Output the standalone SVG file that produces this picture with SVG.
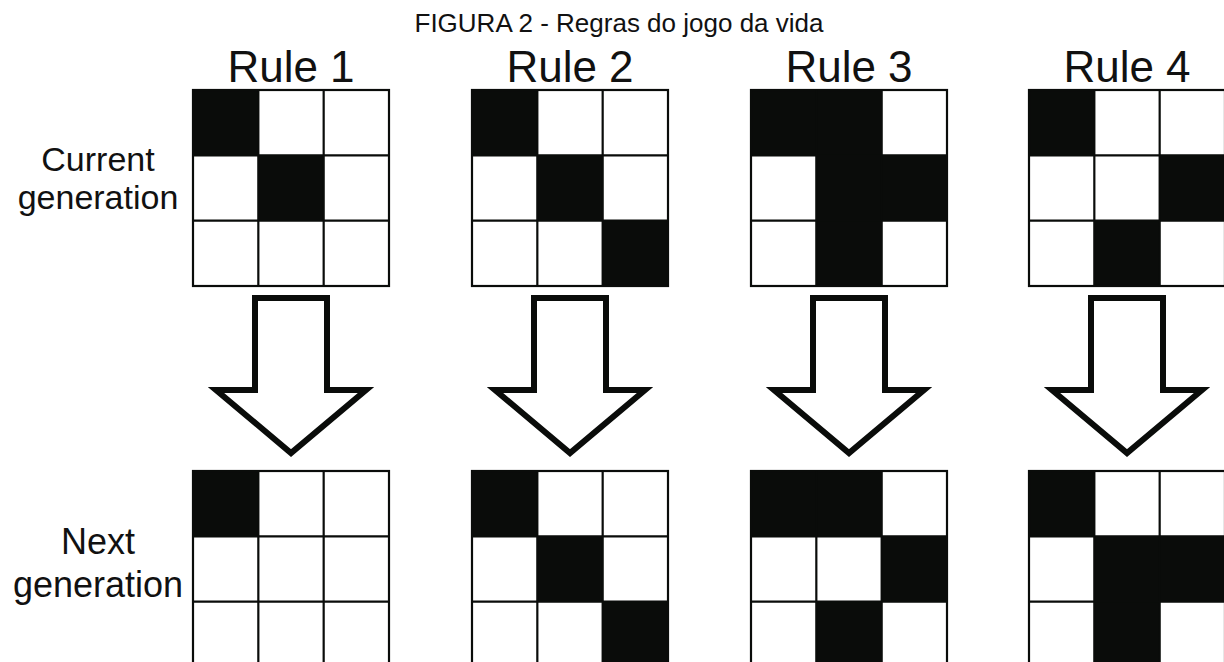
<svg xmlns="http://www.w3.org/2000/svg" width="1224" height="662" viewBox="0 0 1224 662">
<style>
text{font-family:"Liberation Sans",Arial,sans-serif;fill:#111;}
.title{font-size:26px;text-anchor:middle;}
.rule{font-size:44px;text-anchor:middle;}
.lab{font-size:36px;text-anchor:middle;}
.lab2{font-size:34px;text-anchor:middle;}
.bg{fill:#fff;}
.on{fill:#0a0c0a;}
.frame{fill:none;stroke:#0a0c0a;stroke-width:2.2;}
.arrow{fill:#fff;stroke:#0a0c0a;stroke-width:6;stroke-linejoin:miter;stroke-miterlimit:6;}
</style>
<defs>
<g id="gridlines">
<rect class="frame" x="0" y="0" width="196" height="196"/>
<path class="frame" d="M65.33 0V196M130.67 0V196M0 65.33H196M0 130.67H196"/>
</g>
<polygon id="arr" class="arrow" points="-36,298 36,298 36,390 75,390 0,453 -75,390 -36,390"/>
</defs>
<rect width="1224" height="662" fill="#fff"/>
<text class="title" x="619" y="32">FIGURA 2 - Regras do jogo da vida</text>
<g id="labels">
<text class="lab2" x="98" y="171">Current</text>
<text class="lab2" x="98" y="209">generation</text>
<text class="lab" x="98" y="554">Next</text>
<text class="lab" x="98" y="597">generation</text>
</g>
<g id="rule-titles">
<text class="rule" x="291" y="82">Rule 1</text>
<text class="rule" x="570" y="82">Rule 2</text>
<text class="rule" x="849" y="82">Rule 3</text>
<text class="rule" x="1127" y="82">Rule 4</text>
</g>
<g id="rule1-current" transform="translate(193,90)">
<rect class="bg" width="196" height="196"/>
<rect class="on" x="0" y="0" width="65.33" height="65.33"/>
<rect class="on" x="65.33" y="65.33" width="65.33" height="65.33"/>
<use href="#gridlines"/>
</g>
<g id="rule2-current" transform="translate(472,90)">
<rect class="bg" width="196" height="196"/>
<rect class="on" x="0" y="0" width="65.33" height="65.33"/>
<rect class="on" x="65.33" y="65.33" width="65.33" height="65.33"/>
<rect class="on" x="130.67" y="130.67" width="65.33" height="65.33"/>
<use href="#gridlines"/>
</g>
<g id="rule3-current" transform="translate(751,90)">
<rect class="bg" width="196" height="196"/>
<rect class="on" x="0" y="0" width="130.67" height="65.33"/>
<rect class="on" x="65.33" y="65.33" width="130.67" height="65.33"/>
<rect class="on" x="65.33" y="130.67" width="65.33" height="65.33"/>
<use href="#gridlines"/>
</g>
<g id="rule4-current" transform="translate(1029,90)">
<rect class="bg" width="196" height="196"/>
<rect class="on" x="0" y="0" width="65.33" height="65.33"/>
<rect class="on" x="130.67" y="65.33" width="65.33" height="65.33"/>
<rect class="on" x="65.33" y="130.67" width="65.33" height="65.33"/>
<use href="#gridlines"/>
</g>
<g id="connectors">
<use href="#arr" transform="translate(291,0)"/>
<use href="#arr" transform="translate(570,0)"/>
<use href="#arr" transform="translate(849,0)"/>
<use href="#arr" transform="translate(1127,0)"/>
</g>
<g id="rule1-next" transform="translate(193,471)">
<rect class="bg" width="196" height="196"/>
<rect class="on" x="0" y="0" width="65.33" height="65.33"/>
<use href="#gridlines"/>
</g>
<g id="rule2-next" transform="translate(472,471)">
<rect class="bg" width="196" height="196"/>
<rect class="on" x="0" y="0" width="65.33" height="65.33"/>
<rect class="on" x="65.33" y="65.33" width="65.33" height="65.33"/>
<rect class="on" x="130.67" y="130.67" width="65.33" height="65.33"/>
<use href="#gridlines"/>
</g>
<g id="rule3-next" transform="translate(751,471)">
<rect class="bg" width="196" height="196"/>
<rect class="on" x="0" y="0" width="130.67" height="65.33"/>
<rect class="on" x="130.67" y="65.33" width="65.33" height="65.33"/>
<rect class="on" x="65.33" y="130.67" width="65.33" height="65.33"/>
<use href="#gridlines"/>
</g>
<g id="rule4-next" transform="translate(1029,471)">
<rect class="bg" width="196" height="196"/>
<rect class="on" x="0" y="0" width="65.33" height="65.33"/>
<rect class="on" x="65.33" y="65.33" width="130.67" height="65.33"/>
<rect class="on" x="65.33" y="130.67" width="65.33" height="65.33"/>
<use href="#gridlines"/>
</g>
</svg>
